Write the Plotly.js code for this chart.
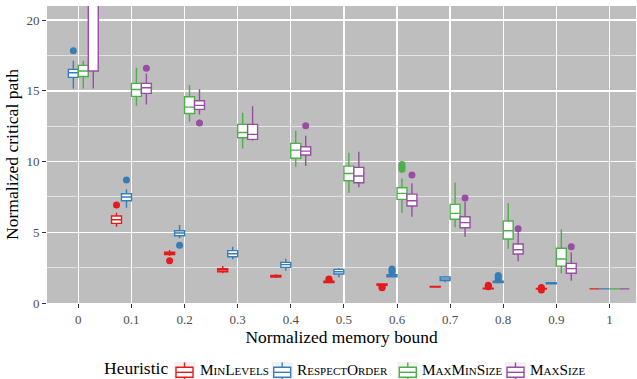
<!DOCTYPE html>
<html>
<head>
<meta charset="utf-8">
<script src="https://cdn.plot.ly/plotly-3.0.1.min.js"></script>
<style>html,body{margin:0;padding:0;background:#fff;}#chart{width:637px;height:379px;}</style>
</head>
<body>
<div id="chart"></div>
<script>
// Categories (normalized memory bound)
const categories = ['0','0.1','0.2','0.3','0.4','0.5','0.6','0.7','0.8','0.9','1'];

// MinLevels (red) — null where not visible
const minLevelsLow = [null, 5.39, 3.32, 2.10, 1.76, 1.42, 1.22, 1.08, 0.98, 0.97, 1];
const minLevelsQ1  = [null, 5.63, 3.42, 2.21, 1.83, 1.45, 1.26, 1.13, 1.00, 0.99, 1];
const minLevelsMed = [null, 5.89, 3.51, 2.33, 1.89, 1.50, 1.30, 1.15, 1.02, 1.00, 1];
const minLevelsQ3  = [null, 6.15, 3.60, 2.42, 1.95, 1.55, 1.34, 1.17, 1.05, 1.02, 1];
const minLevelsUp  = [null, 6.38, 3.75, 2.61, 2.03, 1.58, 1.38, 1.22, 1.08, 1.04, 1];
const minLevelsOutX = ['0.1','0.2','0.5','0.5','0.6','0.6','0.8','0.8','0.8','0.9','0.9'];
const minLevelsOutY = [6.93, 2.99, 1.65, 1.70, 1.08, 1.12, 1.15, 1.20, 1.25, 1.10, 0.92];

// RespectOrder (blue)
const respectLow = [15.17, 6.74, 4.57, 3.09, 2.28, 1.82, 1.82, 1.46, 1.42, 1.30, 1];
const respectQ1  = [15.95, 7.23, 4.76, 3.27, 2.52, 2.05, 1.86, 1.58, 1.45, 1.35, 1];
const respectMed = [16.28, 7.49, 4.95, 3.48, 2.71, 2.21, 1.93, 1.70, 1.50, 1.39, 1];
const respectQ3  = [16.52, 7.73, 5.11, 3.70, 2.87, 2.38, 2.00, 1.84, 1.55, 1.43, 1];
const respectUp  = [17.12, 8.04, 5.51, 3.98, 3.13, 2.45, 2.05, 1.91, 1.58, 1.48, 1];
const respectOutX = ['0','0.1','0.2','0.6','0.6','0.6','0.8','0.8','0.8'];
const respectOutY = [17.83, 8.69, 4.08, 2.20, 2.30, 2.40, 1.65, 1.80, 1.95];

// MaxMinSize (green)
const maxMinLow = [15.17, 13.94, 12.81, 10.93, 9.63, 7.80, 6.38, 5.35, 3.84, 2.10, 1];
const maxMinQ1  = [16.02, 14.61, 13.40, 11.68, 10.23, 8.64, 7.33, 5.92, 4.52, 2.61, 1];
const maxMinMed = [16.40, 15.10, 13.85, 12.06, 10.81, 9.16, 7.75, 6.34, 5.11, 3.11, 1];
const maxMinQ3  = [16.80, 15.53, 14.58, 12.63, 11.29, 9.68, 8.15, 6.97, 5.80, 3.87, 1];
const maxMinUp  = [17.12, 16.63, 15.41, 13.45, 12.18, 10.62, 8.81, 8.50, 7.05, 5.21, 1];
const maxMinOutX = ['0.6','0.6','0.6'];
const maxMinOutY = [9.45, 9.62, 9.80];

// MaxSize (purple)
const maxSizeLow = [15.17, 14.04, 13.33, 11.47, 9.68, 8.18, 6.10, 4.69, 2.95, 1.58, 1];
const maxSizeQ1  = [16.40, 14.82, 13.69, 11.57, 10.46, 8.50, 6.86, 5.32, 3.46, 2.10, 1];
const maxSizeMed = [22.0, 15.22, 13.97, 11.92, 10.74, 8.98, 7.23, 5.68, 3.77, 2.43, 1];
const maxSizeQ3  = [24.0, 15.53, 14.30, 12.63, 11.05, 9.59, 7.70, 6.10, 4.17, 2.80, 1];
const maxSizeUp  = [26.0, 16.23, 15.12, 13.92, 11.82, 10.69, 8.46, 7.16, 5.00, 3.58, 1];
const maxSizeOutX = ['0.1','0.2','0.4','0.6','0.7','0.8','0.9'];
const maxSizeOutY = [16.59, 12.72, 12.53, 9.05, 7.42, 5.25, 3.98];

const yTicks = [0, 5, 10, 15, 20];
const legendTitle = 'Heuristic';
const seriesNames = ['MinLevels', 'RespectOrder', 'MaxMinSize', 'MaxSize'];
const seriesColors = ['#E41A1C', '#377EB8', '#4DAF4A', '#984EA3'];

const series = [
  {low: minLevelsLow, q1: minLevelsQ1, med: minLevelsMed, q3: minLevelsQ3, up: minLevelsUp, ox: minLevelsOutX, oy: minLevelsOutY},
  {low: respectLow, q1: respectQ1, med: respectMed, q3: respectQ3, up: respectUp, ox: respectOutX, oy: respectOutY},
  {low: maxMinLow, q1: maxMinQ1, med: maxMinMed, q3: maxMinQ3, up: maxMinUp, ox: maxMinOutX, oy: maxMinOutY},
  {low: maxSizeLow, q1: maxSizeQ1, med: maxSizeMed, q3: maxSizeQ3, up: maxSizeUp, ox: maxSizeOutX, oy: maxSizeOutY}
];

const dodgeWidth = 0.75;
const boxW = dodgeWidth / 4;
const traces = [];
series.forEach((s, k) => {
  const off = -dodgeWidth / 2 + boxW * (k + 0.5);
  const idx = [];
  categories.forEach((c, i) => { if (s.med[i] !== null) idx.push(i); });
  traces.push({
    type: 'box',
    name: seriesNames[k],
    x: idx.map(i => i + off),
    q1: idx.map(i => s.q1[i]),
    median: idx.map(i => s.med[i]),
    q3: idx.map(i => s.q3[i]),
    lowerfence: idx.map(i => s.low[i]),
    upperfence: idx.map(i => s.up[i]),
    width: boxW,
    whiskerwidth: 0,
    boxpoints: false,
    fillcolor: 'white',
    line: {color: seriesColors[k], width: 1.4},
    showlegend: false,
    hoverinfo: 'skip'
  });
});
series.forEach((s, k) => {
  const off = -dodgeWidth / 2 + boxW * (k + 0.5);
  traces.push({
    type: 'scatter',
    mode: 'markers',
    x: s.ox.map(c => categories.indexOf(c) + off),
    y: s.oy,
    marker: {color: seriesColors[k], size: 7},
    showlegend: false,
    hoverinfo: 'skip'
  });
});

// ----- layout geometry (pixels) -----
const W = 637, H = 379;
const M = {l: 47, r: 1, t: 6, b: 76};
const pw = W - M.l - M.r, ph = H - M.t - M.b;
const px = x => (x - M.l) / pw;
const py = y => 1 - (y - M.t) / ph;

const FONT = 'Liberation Serif, Times New Roman, serif';

// ----- manual ggplot-style legend -----
const legendBottom = 379;
const keyCenters = [184.5, 282.2, 407.8, 515.5];
const labelLeft = [199.3, 296, 420.7, 529.3];
const shapes = [];
const annotations = [{
  text: legendTitle, xref: 'paper', yref: 'paper', x: px(103), y: py(legendBottom),
  xanchor: 'left', yanchor: 'bottom', showarrow: false, borderpad: 0,
  font: {family: FONT, size: 17.5, color: '#000'}
}];
seriesNames.forEach((name, k) => {
  const kx = keyCenters[k], c = seriesColors[k];
  shapes.push({type: 'rect', xref: 'paper', yref: 'paper', x0: px(kx - 10.5), x1: px(kx + 10.5), y0: py(362), y1: py(379), fillcolor: '#F2F2F2', line: {width: 0}, layer: 'below'});
  shapes.push({type: 'line', xref: 'paper', yref: 'paper', x0: px(kx), x1: px(kx), y0: py(362.5), y1: py(379), line: {color: c, width: 1.4}, layer: 'above'});
  shapes.push({type: 'rect', xref: 'paper', yref: 'paper', x0: px(kx - 8.5), x1: px(kx + 8.5), y0: py(367.3), y1: py(377.3), fillcolor: 'white', line: {color: c, width: 1.4}, layer: 'above'});
  shapes.push({type: 'line', xref: 'paper', yref: 'paper', x0: px(kx - 8.5), x1: px(kx + 8.5), y0: py(372.3), y1: py(372.3), line: {color: c, width: 1.4}, layer: 'above'});
  annotations.push({
    text: name, xref: 'paper', yref: 'paper', x: px(labelLeft[k]), y: py(legendBottom),
    xanchor: 'left', yanchor: 'bottom', showarrow: false, borderpad: 0,
    font: {family: FONT, size: 15.3, color: '#000', variant: 'small-caps'}
  });
});

const layout = {
  width: W, height: H,
  margin: M,
  paper_bgcolor: 'white',
  plot_bgcolor: '#BEBEBE',
  font: {family: FONT, color: '#000'},
  showlegend: false,
  xaxis: {
    range: [-0.59, 10.5],
    tickvals: categories.map((c, i) => i),
    ticktext: categories,
    ticks: 'outside', ticklen: 4, tickwidth: 1, tickcolor: '#333',
    tickfont: {family: FONT, size: 13, color: '#4D4D4D'},
    showgrid: true, gridcolor: '#FFFFFF', gridwidth: 1.3,
    zeroline: false, showline: false,
    title: {text: 'Normalized memory bound', font: {family: FONT, size: 17.4, color: '#000'}, standoff: 4}
  },
  yaxis: {
    range: [0, 21],
    tickvals: yTicks,
    ticks: 'outside', ticklen: 4, tickwidth: 1, tickcolor: '#333',
    tickfont: {family: FONT, size: 13, color: '#4D4D4D'},
    showgrid: true, gridcolor: '#FFFFFF', gridwidth: 1.3,
    minor: {dtick: 2.5, showgrid: true, gridcolor: '#F2F2F2', gridwidth: 0.7, ticks: ''},
    zeroline: false, showline: false,
    title: {text: 'Normalized critical path', font: {family: FONT, size: 17.6, color: '#000'}, standoff: 3}
  },
  shapes: shapes,
  annotations: annotations
};

Plotly.newPlot('chart', traces, layout, {staticPlot: true, displayModeBar: false});
</script>
</body>
</html>
